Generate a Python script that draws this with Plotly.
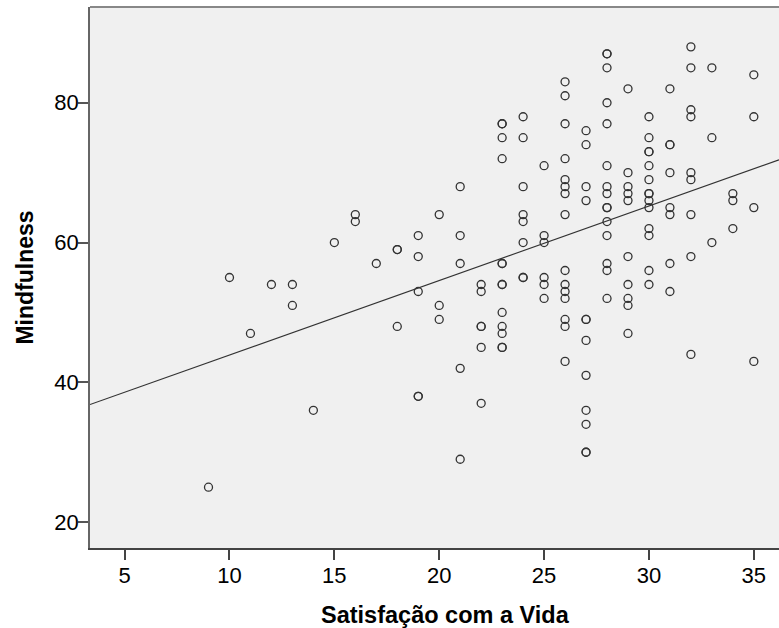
import numpy as np
import plotly.graph_objects as go

# Satisfação com a Vida (x) -> list of Mindfulness values (y)
sat_levels = [9, 10, 11, 12, 13, 14, 15, 16, 17, 18, 19, 20, 21, 22, 23, 24, 25,
              26, 27, 28, 29, 30, 31, 32, 33, 34, 35]
mind_by_level = [
    [25],
    [55],
    [47],
    [54],
    [54, 51],
    [36],
    [60],
    [64, 63],
    [57],
    [59, 59, 48],
    [61, 58, 53, 38, 38],
    [64, 51, 49],
    [68, 61, 57, 42, 29],
    [54, 53, 48, 48, 45, 37],
    [77, 77, 75, 72, 57, 57, 54, 54, 50, 48, 47, 45, 45],
    [78, 75, 68, 64, 63, 60, 55, 55],
    [71, 61, 60, 55, 54, 52],
    [83, 81, 77, 72, 69, 68, 67, 64, 56, 54, 53, 52, 49, 48, 43],
    [76, 74, 68, 66, 49, 49, 46, 41, 36, 34, 30, 30],
    [87, 87, 85, 80, 77, 71, 68, 67, 65, 65, 63, 61, 57, 56, 52],
    [82, 70, 68, 67, 66, 58, 54, 52, 51, 47],
    [78, 75, 73, 73, 71, 69, 67, 67, 66, 65, 62, 61, 56, 54],
    [82, 74, 74, 70, 65, 64, 57, 53],
    [88, 85, 79, 78, 70, 69, 64, 58, 44],
    [85, 75, 60],
    [67, 66, 62],
    [84, 78, 65, 43],
]

x_ticks = [5, 10, 15, 20, 25, 30, 35]
y_ticks = [20, 40, 60, 80]
x_range = [3.35, 36.2]
y_range = [16.3, 93.7]

x_vals = []
y_vals = []
for lvl, ys in zip(sat_levels, mind_by_level):
    for v in ys:
        x_vals.append(lvl)
        y_vals.append(v)

slope, intercept = np.polyfit(x_vals, y_vals, 1)
line_x = np.array(x_range)
line_y = intercept + slope * line_x

fig = go.Figure()
fig.add_trace(go.Scatter(
    x=line_x, y=line_y, mode="lines",
    line=dict(color="#333333", width=1.2),
    hoverinfo="skip", showlegend=False,
))
fig.add_trace(go.Scatter(
    x=x_vals, y=y_vals, mode="markers",
    marker=dict(symbol="circle-open", size=8, color="#333333",
                line=dict(width=1.3, color="#333333")),
    showlegend=False,
))

font_fam = "Liberation Sans, Arial, sans-serif"
fig.update_layout(
    width=779, height=628,
    margin=dict(l=90, r=0, t=7, b=80),
    paper_bgcolor="white",
    plot_bgcolor="#F0F0F0",
    font=dict(family=font_fam, color="black", size=22),
    xaxis=dict(
        range=x_range, tickvals=x_ticks, ticks="outside", ticklen=10,
        tickcolor="#444444", tickwidth=1.5,
        showline=True, linecolor="#444444", linewidth=1.5,
        showgrid=False, zeroline=False, ticklabelstandoff=-3,
        tickfont=dict(size=22, family=font_fam, color="black"),
    ),
    yaxis=dict(
        range=y_range, tickvals=y_ticks, ticks="outside", ticklen=10,
        tickcolor="#555555", tickwidth=1.5,
        showline=True, linecolor="#666666", linewidth=1.5,
        showgrid=False, zeroline=False, ticklabelstandoff=-5,
        tickfont=dict(size=22, family=font_fam, color="black"),
        title=dict(text="<b>Mindfulness</b>", standoff=14,
                   font=dict(size=23, family=font_fam, color="black")),
    ),
    shapes=[dict(type="line", xref="paper", yref="paper", x0=0, x1=1, y0=1, y1=1,
                 line=dict(color="#888888", width=2))],
    annotations=[dict(text="<b>Satisfação com a Vida</b>", xref="paper", yref="paper",
                      x=0.516, y=0, yshift=-67, xanchor="center", yanchor="middle",
                      showarrow=False,
                      font=dict(size=23.5, family=font_fam, color="black"))],
)

fig.write_html("out.html")
